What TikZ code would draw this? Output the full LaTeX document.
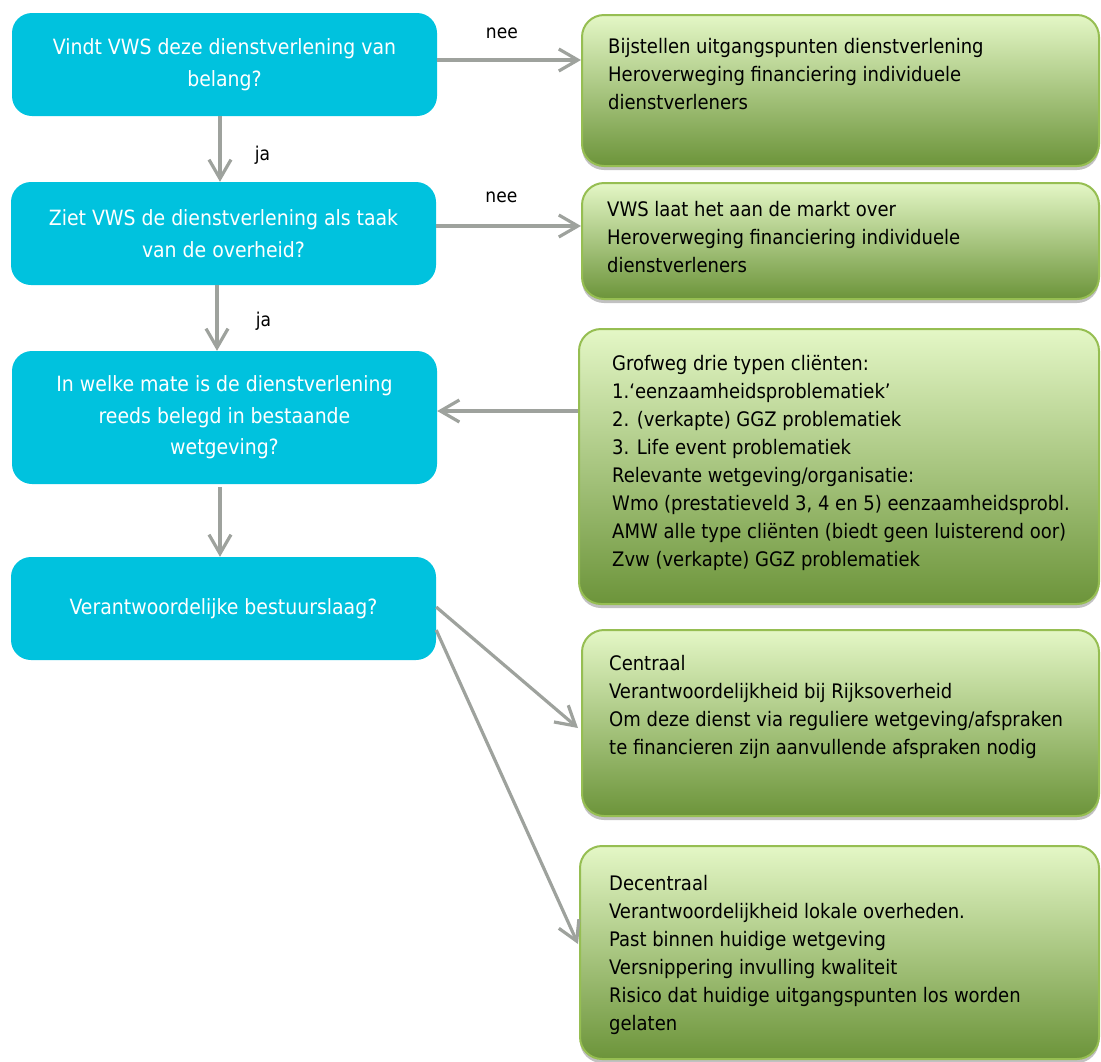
\documentclass[tikz,border=0pt]{standalone}
\usepackage{fontspec}
\setmainfont{DejaVu Sans Condensed}
\usetikzlibrary{arrows.meta,shadows,calc}
\definecolor{qblue}{RGB}{0,194,222}
\definecolor{gtop}{RGB}{228,247,198}
\definecolor{gbot}{RGB}{108,148,58}
\definecolor{gborder}{RGB}{150,190,82}
\definecolor{arrgray}{RGB}{158,162,157}
\begin{document}
\begin{tikzpicture}[x=1pt,y=-1pt,
  qbox/.style={rectangle, rounded corners=20pt, fill=qblue, draw=none, text=white,
    minimum width=425pt, align=center, inner sep=0pt,
    font=\fontsize{21}{31.5}\selectfont},
  gbox/.style={rectangle, rounded corners=22pt, draw=gborder, line width=2pt,
    top color=gtop, bottom color=gbot, anchor=north west, inner sep=0pt,
    drop shadow={shadow xshift=0pt, shadow yshift=-4pt, opacity=0.35, fill=black!70}},
  gtext/.style={anchor=north west, align=left, inner sep=0pt, text=black,
    font=\fontsize{20}{27.9}\selectfont},
  arr/.style={draw=arrgray, line width=3.2pt, -{Straight Barb[length=19pt,width=22pt,line width=3.2pt]}},
  lbl/.style={text=black, font=\fontsize{19}{22}\selectfont}
]
\useasboundingbox (0,0) rectangle (1101,1061);

% question boxes
\node[qbox, minimum height=103pt] (b1) at (224.5,64.5) {Vindt VWS deze dienstverlening van\\belang?};
\node[qbox, minimum height=103pt] (b2) at (223.5,233.5) {Ziet VWS de dienstverlening als taak\\van de overheid?};
\node[qbox, minimum height=133pt] (b3) at (224.5,417.5) {In welke mate is de dienstverlening\\reeds belegd in bestaande\\wetgeving?};
\node[qbox, minimum height=103pt] (b4) at (223.5,608.5) {Verantwoordelijke bestuurslaag?};

% answer boxes
\node[gbox, minimum width=517pt, minimum height=151pt] (g1) at (581,14) {};
\node[gbox, minimum width=517pt, minimum height=116pt] (g2) at (581,182) {};
\node[gbox, minimum width=520pt, minimum height=275pt] (g3) at (578,328) {};
\node[gbox, minimum width=517pt, minimum height=186pt] (g4) at (581,629) {};
\node[gbox, minimum width=519pt, minimum height=213pt] (g5) at (579,845) {};

\node[gtext] (t1) at (608,38.5) {Bijstellen uitgangspunten dienstverlening\\Heroverweging financiering individuele\\dienstverleners};
\node[gtext] (t2) at (607,201.5) {VWS laat het aan de markt over\\Heroverweging financiering individuele\\dienstverleners};
\node[gtext] (t3) at (612,355.5) {Grofweg drie typen cliënten:\\1.‘eenzaamheidsproblematiek’\\2. (verkapte) GGZ problematiek\\3. Life event problematiek\\Relevante wetgeving/organisatie:\\Wmo (prestatieveld 3, 4 en 5) eenzaamheidsprobl.\\AMW alle type cliënten (biedt geen luisterend oor)\\Zvw (verkapte) GGZ problematiek};
\node[gtext] (t4) at (609,655.5) {Centraal\\Verantwoordelijkheid bij Rijksoverheid\\Om deze dienst via reguliere wetgeving/afspraken\\te financieren zijn aanvullende afspraken nodig};
\node[gtext] (t5) at (609,875.5) {Decentraal\\Verantwoordelijkheid lokale overheden.\\Past binnen huidige wetgeving\\Versnippering invulling kwaliteit\\Risico dat huidige uitgangspunten los worden\\gelaten};

% connectors
\coordinate (c1) at ([yshift=4.5pt]b1.east);
\draw[arr] (c1) -- (c1 -| g1.west) node[lbl, pos=0.45, above=16pt] {nee};
\coordinate (c2) at ([yshift=7.5pt]b2.east);
\draw[arr] (c2) -- (c2 -| g2.west) node[lbl, pos=0.45, above=18pt] {nee};
\coordinate (c3) at ([xshift=-4.5pt]b1.south);
\draw[arr] (c3) -- (c3 |- b2.north) node[lbl, pos=0.6, right=30pt] {ja};
\coordinate (c4) at ([xshift=-6.5pt]b2.south);
\draw[arr] (c4) -- (c4 |- b3.north) node[lbl, pos=0.55, right=34pt] {ja};
\coordinate (c5) at ([xshift=-4.5pt]b3.south);
\draw[arr] ([yshift=-3pt]c5) -- (c5 |- b4.north);
\coordinate (c6) at ([yshift=6.5pt]b3.east);
\draw[arr] (c6 -| g3.west) -- (c6);
\draw[arr] ([yshift=1.5pt]b4.east) -- ([xshift=-3pt,yshift=-5pt]g4.west);
\draw[arr] ([yshift=-21.5pt]b4.east) -- ([xshift=-1pt,yshift=8.5pt]g5.west);
\end{tikzpicture}
\end{document}
